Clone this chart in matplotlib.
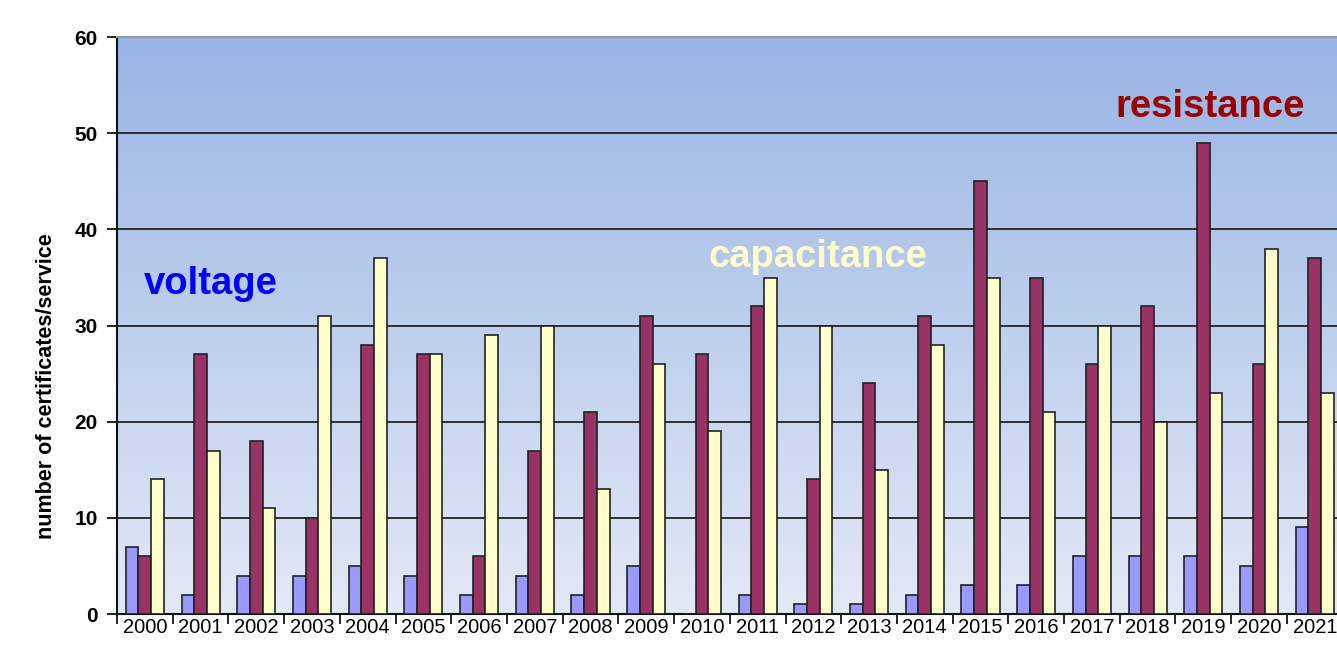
import numpy as np
import matplotlib
matplotlib.use("Agg")
import matplotlib.pyplot as plt
from matplotlib.colors import LinearSegmentedColormap

years = [str(y) for y in range(2000, 2022)]
voltage = [7, 2, 4, 4, 5, 4, 2, 4, 2, 5, 0, 2, 1, 1, 2, 3, 3, 6, 6, 6, 5, 9]
resistance = [6, 27, 18, 10, 28, 27, 6, 17, 21, 31, 27, 32, 14, 24, 31, 45, 35, 26, 32, 49, 26, 37]
capacitance = [14, 17, 11, 31, 37, 27, 29, 30, 13, 26, 19, 35, 30, 15, 28, 35, 21, 30, 20, 23, 38, 23]
y_ticks = [0, 10, 20, 30, 40, 50, 60]

fig = plt.figure(figsize=(13.37, 6.46), dpi=100)
ax = fig.add_axes([0.0875, 0.0495, 0.9167, 0.893])

# gradient background (blue at top, pale at bottom)
cmap = LinearSegmentedColormap.from_list("bg", ["#e3e9f6", "#98b4e4"])
grad = np.linspace(0, 1, 256).reshape(-1, 1)
ax.imshow(grad, cmap=cmap, origin="lower", aspect="auto",
          extent=[-0.5, len(years) - 0.5, 0, 60], zorder=0)

x = np.arange(len(years))
w = 0.228
kw = dict(edgecolor="#222222", linewidth=1.2, zorder=3)
ax.bar(x - w, voltage, w, color="#9999ff", **kw)
ax.bar(x, resistance, w, color="#993366", **kw)
ax.bar(x + w, capacitance, w, color="#ffffcc", **kw)

ax.set_xlim(-0.5, len(years) - 0.5)
ax.set_ylim(0, 60)
ax.set_yticks(y_ticks)
ax.set_yticklabels([str(t) for t in y_ticks], fontsize=15, fontweight="bold",
                   family="Liberation Sans")
ax.yaxis.grid(True, color="#222222", linewidth=1.3, zorder=1)
ax.set_axisbelow(True)

ax.set_xticks(np.arange(len(years) + 1) - 0.5)
ax.set_xticklabels([])
ax.set_xticks(x, minor=True)
ax.set_xticklabels(years, minor=True, fontsize=14.5, family="Liberation Sans")
ax.tick_params(axis="x", which="minor", length=0, pad=3)
ax.tick_params(axis="x", which="major", length=7, width=1.2, direction="out")
ax.tick_params(axis="y", length=7, width=1.2, direction="out", pad=7)

for s in ["left", "bottom"]:
    ax.spines[s].set_color("#111111")
    ax.spines[s].set_linewidth(1.5)
ax.spines["top"].set_color("#999999")
ax.spines["top"].set_linewidth(1.5)
ax.spines["right"].set_visible(False)

ax.set_ylabel("number of certificates/service", fontsize=15.5, fontweight="bold",
              family="Liberation Sans")
ax.yaxis.set_label_coords(-0.049, 0.395)

txt = dict(fontsize=27.5, fontweight="bold", family="Liberation Sans",
           ha="center", va="center", zorder=5)
ax.text(1.19, 34.3, "voltage", color="#0000ff", **txt)
ax.text(12.09, 37.1, "capacitance", color="#ffffcc", **txt)
ax.text(19.12, 52.7, "resistance", color="#990000", **txt)

fig.savefig("out.png", dpi=100)
